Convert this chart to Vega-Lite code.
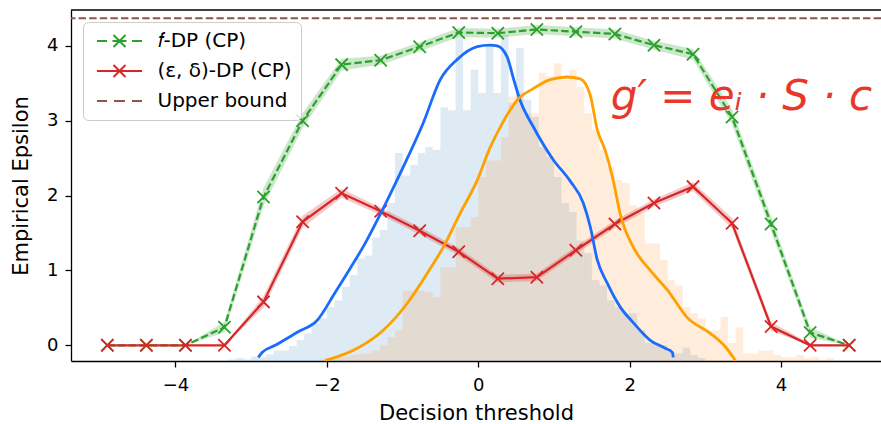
{
  "$schema": "https://vega.github.io/schema/vega-lite/v6.json",
  "width": 810,
  "height": 351,
  "autosize": "none",
  "padding": {"left": 71, "top": 10, "right": 0, "bottom": 63},
  "config": {
    "view": {"stroke": null},
    "font": "DejaVu Sans",
    "axis": {
      "labelFont": "DejaVu Sans", "titleFont": "DejaVu Sans",
      "labelFontSize": 18, "titleFontSize": 21, "titleFontWeight": "normal",
      "labelColor": "#000", "titleColor": "#000",
      "domainColor": "#000", "tickColor": "#000",
      "domainWidth": 1.3, "tickWidth": 1.3, "tickSize": 6, "grid": false, "labelPadding": 7
    },
    "axisY": {"titlePadding": 15},
    "axisX": {"titlePadding": 8, "labelPadding": 9}
  },
  "datasets": {
    "hb": [
      {"lo": -3.3, "hi": -3.2, "h": 0.02}, {"lo": -3.2, "hi": -3.1, "h": 0.04}, {"lo": -3.1, "hi": -3.0, "h": 0.02},
      {"lo": -3.0, "hi": -2.9, "h": 0.06}, {"lo": -2.9, "hi": -2.8, "h": 0.05}, {"lo": -2.8, "hi": -2.7, "h": 0.09},
      {"lo": -2.7, "hi": -2.6, "h": 0.14}, {"lo": -2.6, "hi": -2.5, "h": 0.14}, {"lo": -2.5, "hi": -2.4, "h": 0.20},
      {"lo": -2.4, "hi": -2.3, "h": 0.28}, {"lo": -2.3, "hi": -2.2, "h": 0.37}, {"lo": -2.2, "hi": -2.1, "h": 0.50},
      {"lo": -2.1, "hi": -2.0, "h": 0.57}, {"lo": -2.0, "hi": -1.9, "h": 0.72}, {"lo": -1.9, "hi": -1.8, "h": 0.81},
      {"lo": -1.8, "hi": -1.7, "h": 0.99}, {"lo": -1.7, "hi": -1.6, "h": 1.15}, {"lo": -1.6, "hi": -1.5, "h": 1.37},
      {"lo": -1.5, "hi": -1.4, "h": 1.41}, {"lo": -1.4, "hi": -1.3, "h": 1.65}, {"lo": -1.3, "hi": -1.2, "h": 1.75},
      {"lo": -1.2, "hi": -1.1, "h": 2.11}, {"lo": -1.1, "hi": -1.0, "h": 2.78}, {"lo": -1.0, "hi": -0.9, "h": 2.48},
      {"lo": -0.9, "hi": -0.8, "h": 2.62}, {"lo": -0.8, "hi": -0.7, "h": 2.78}, {"lo": -0.7, "hi": -0.6, "h": 2.86},
      {"lo": -0.6, "hi": -0.5, "h": 2.82}, {"lo": -0.5, "hi": -0.4, "h": 3.39}, {"lo": -0.4, "hi": -0.3, "h": 3.35},
      {"lo": -0.3, "hi": -0.2, "h": 4.33}, {"lo": -0.2, "hi": -0.1, "h": 3.35}, {"lo": -0.1, "hi": 0.0, "h": 3.89},
      {"lo": 0.0, "hi": 0.1, "h": 3.58}, {"lo": 0.1, "hi": 0.2, "h": 4.20}, {"lo": 0.2, "hi": 0.3, "h": 3.58},
      {"lo": 0.3, "hi": 0.4, "h": 4.36}, {"lo": 0.4, "hi": 0.5, "h": 3.45}, {"lo": 0.5, "hi": 0.6, "h": 4.18},
      {"lo": 0.6, "hi": 0.7, "h": 3.49}, {"lo": 0.7, "hi": 0.8, "h": 3.26}, {"lo": 0.8, "hi": 0.9, "h": 2.86},
      {"lo": 0.9, "hi": 1.0, "h": 2.73}, {"lo": 1.0, "hi": 1.1, "h": 2.46}, {"lo": 1.1, "hi": 1.2, "h": 2.11},
      {"lo": 1.2, "hi": 1.3, "h": 1.99}, {"lo": 1.3, "hi": 1.4, "h": 1.61}, {"lo": 1.4, "hi": 1.5, "h": 1.44},
      {"lo": 1.5, "hi": 1.6, "h": 1.08}, {"lo": 1.6, "hi": 1.7, "h": 1.01}, {"lo": 1.7, "hi": 1.8, "h": 0.81},
      {"lo": 1.8, "hi": 1.9, "h": 0.72}, {"lo": 1.9, "hi": 2.0, "h": 0.64}, {"lo": 2.0, "hi": 2.1, "h": 0.64},
      {"lo": 2.1, "hi": 2.2, "h": 0.41}, {"lo": 2.2, "hi": 2.3, "h": 0.24}, {"lo": 2.3, "hi": 2.4, "h": 0.24},
      {"lo": 2.4, "hi": 2.5, "h": 0.21}, {"lo": 2.5, "hi": 2.6, "h": 0.12}, {"lo": 2.6, "hi": 2.7, "h": 0.10},
      {"lo": 2.7, "hi": 2.8, "h": 0.18}, {"lo": 2.8, "hi": 2.9, "h": 0.08}, {"lo": 2.9, "hi": 3.0, "h": 0.04}
    ],
    "ho": [
      {"lo": -2.1, "hi": -2.0, "h": 0.02}, {"lo": -2.0, "hi": -1.9, "h": 0.04}, {"lo": -1.9, "hi": -1.8, "h": 0.05},
      {"lo": -1.8, "hi": -1.7, "h": 0.06}, {"lo": -1.7, "hi": -1.6, "h": 0.08}, {"lo": -1.6, "hi": -1.5, "h": 0.09},
      {"lo": -1.5, "hi": -1.4, "h": 0.10}, {"lo": -1.4, "hi": -1.3, "h": 0.14}, {"lo": -1.3, "hi": -1.2, "h": 0.21},
      {"lo": -1.2, "hi": -1.1, "h": 0.32}, {"lo": -1.1, "hi": -1.0, "h": 0.41}, {"lo": -1.0, "hi": -0.9, "h": 0.94},
      {"lo": -0.9, "hi": -0.8, "h": 0.94}, {"lo": -0.8, "hi": -0.7, "h": 0.94}, {"lo": -0.7, "hi": -0.6, "h": 0.92},
      {"lo": -0.6, "hi": -0.5, "h": 0.85}, {"lo": -0.5, "hi": -0.4, "h": 1.25}, {"lo": -0.4, "hi": -0.3, "h": 1.25},
      {"lo": -0.3, "hi": -0.2, "h": 1.79}, {"lo": -0.2, "hi": -0.1, "h": 1.79}, {"lo": -0.1, "hi": 0.0, "h": 1.92},
      {"lo": 0.0, "hi": 0.1, "h": 2.46}, {"lo": 0.1, "hi": 0.2, "h": 2.68}, {"lo": 0.2, "hi": 0.3, "h": 2.68},
      {"lo": 0.3, "hi": 0.4, "h": 2.99}, {"lo": 0.4, "hi": 0.5, "h": 3.53}, {"lo": 0.5, "hi": 0.6, "h": 3.58},
      {"lo": 0.6, "hi": 0.7, "h": 3.31}, {"lo": 0.7, "hi": 0.8, "h": 3.31}, {"lo": 0.8, "hi": 0.9, "h": 3.85},
      {"lo": 0.9, "hi": 1.0, "h": 3.80}, {"lo": 1.0, "hi": 1.1, "h": 3.98}, {"lo": 1.1, "hi": 1.2, "h": 3.75},
      {"lo": 1.2, "hi": 1.3, "h": 3.89}, {"lo": 1.3, "hi": 1.4, "h": 3.66}, {"lo": 1.4, "hi": 1.5, "h": 3.31},
      {"lo": 1.5, "hi": 1.6, "h": 3.09}, {"lo": 1.6, "hi": 1.7, "h": 2.82}, {"lo": 1.7, "hi": 1.8, "h": 2.59},
      {"lo": 1.8, "hi": 1.9, "h": 2.42}, {"lo": 1.9, "hi": 2.0, "h": 2.38}, {"lo": 2.0, "hi": 2.1, "h": 2.08},
      {"lo": 2.1, "hi": 2.2, "h": 1.98}, {"lo": 2.2, "hi": 2.3, "h": 1.57}, {"lo": 2.3, "hi": 2.4, "h": 1.57},
      {"lo": 2.4, "hi": 2.5, "h": 1.35}, {"lo": 2.5, "hi": 2.6, "h": 1.08}, {"lo": 2.6, "hi": 2.7, "h": 1.01},
      {"lo": 2.7, "hi": 2.8, "h": 0.72}, {"lo": 2.8, "hi": 2.9, "h": 0.64}, {"lo": 2.9, "hi": 3.0, "h": 0.57},
      {"lo": 3.0, "hi": 3.1, "h": 0.41}, {"lo": 3.1, "hi": 3.2, "h": 0.41}, {"lo": 3.2, "hi": 3.3, "h": 0.59},
      {"lo": 3.3, "hi": 3.4, "h": 0.24}, {"lo": 3.4, "hi": 3.5, "h": 0.45}, {"lo": 3.5, "hi": 3.6, "h": 0.10},
      {"lo": 3.6, "hi": 3.7, "h": 0.10}, {"lo": 3.7, "hi": 3.8, "h": 0.14}, {"lo": 3.8, "hi": 3.9, "h": 0.14},
      {"lo": 3.9, "hi": 4.0, "h": 0.08}, {"lo": 4.0, "hi": 4.1, "h": 0.05}, {"lo": 4.1, "hi": 4.2, "h": 0.05},
      {"lo": 4.2, "hi": 4.3, "h": 0.08}, {"lo": 4.3, "hi": 4.4, "h": 0.04}, {"lo": 4.4, "hi": 4.5, "h": 0.05},
      {"lo": 4.5, "hi": 4.6, "h": 0.02}, {"lo": 4.6, "hi": 4.7, "h": 0.04}
    ],
    "cp": [
      {"t": -4.900, "f": 0.00, "fl": 0.00, "fh": 0.00, "e": 0.00, "el": 0.00, "eh": 0.00},
      {"t": -4.384, "f": 0.00, "fl": 0.00, "fh": 0.00, "e": 0.00, "el": 0.00, "eh": 0.00},
      {"t": -3.868, "f": 0.00, "fl": 0.00, "fh": 0.00, "e": 0.00, "el": 0.00, "eh": 0.00},
      {"t": -3.353, "f": 0.24, "fl": 0.17, "fh": 0.31, "e": 0.00, "el": 0.00, "eh": 0.00},
      {"t": -2.837, "f": 1.98, "fl": 1.86, "fh": 2.10, "e": 0.58, "el": 0.50, "eh": 0.66},
      {"t": -2.321, "f": 3.00, "fl": 2.90, "fh": 3.10, "e": 1.65, "el": 1.57, "eh": 1.73},
      {"t": -1.805, "f": 3.75, "fl": 3.67, "fh": 3.83, "e": 2.03, "el": 1.97, "eh": 2.09},
      {"t": -1.289, "f": 3.81, "fl": 3.75, "fh": 3.87, "e": 1.79, "el": 1.74, "eh": 1.84},
      {"t": -0.774, "f": 3.99, "fl": 3.93, "fh": 4.05, "e": 1.53, "el": 1.48, "eh": 1.58},
      {"t": -0.258, "f": 4.18, "fl": 4.12, "fh": 4.24, "e": 1.25, "el": 1.20, "eh": 1.30},
      {"t": 0.258, "f": 4.17, "fl": 4.11, "fh": 4.23, "e": 0.89, "el": 0.84, "eh": 0.94},
      {"t": 0.774, "f": 4.22, "fl": 4.16, "fh": 4.28, "e": 0.91, "el": 0.86, "eh": 0.96},
      {"t": 1.289, "f": 4.19, "fl": 4.13, "fh": 4.25, "e": 1.27, "el": 1.22, "eh": 1.32},
      {"t": 1.805, "f": 4.16, "fl": 4.10, "fh": 4.22, "e": 1.62, "el": 1.57, "eh": 1.67},
      {"t": 2.321, "f": 4.01, "fl": 3.95, "fh": 4.07, "e": 1.90, "el": 1.85, "eh": 1.95},
      {"t": 2.837, "f": 3.89, "fl": 3.82, "fh": 3.96, "e": 2.12, "el": 2.06, "eh": 2.18},
      {"t": 3.353, "f": 3.05, "fl": 2.95, "fh": 3.15, "e": 1.63, "el": 1.56, "eh": 1.70},
      {"t": 3.868, "f": 1.62, "fl": 1.52, "fh": 1.72, "e": 0.25, "el": 0.19, "eh": 0.31},
      {"t": 4.384, "f": 0.17, "fl": 0.10, "fh": 0.24, "e": 0.00, "el": 0.00, "eh": 0.02},
      {"t": 4.900, "f": 0.00, "fl": 0.00, "fh": 0.00, "e": 0.00, "el": 0.00, "eh": 0.00}
    ],
    "bl": [
      {"t": -2.906, "y": -0.161}, {"t": -2.853, "y": -0.094}, {"t": -2.682, "y": 0.0}, {"t": -2.391, "y": 0.174},
      {"t": -2.127, "y": 0.334}, {"t": -1.889, "y": 0.709}, {"t": -1.691, "y": 1.03}, {"t": -1.493, "y": 1.365},
      {"t": -1.334, "y": 1.672}, {"t": -1.03, "y": 2.301}, {"t": -0.727, "y": 2.97}, {"t": -0.502, "y": 3.55},
      {"t": -0.277, "y": 3.82}, {"t": -0.013, "y": 3.99}, {"t": 0.15, "y": 4.01}, {"t": 0.25, "y": 4.0},
      {"t": 0.383, "y": 3.85}, {"t": 0.46, "y": 3.58}, {"t": 0.55, "y": 3.28}, {"t": 0.727, "y": 2.92},
      {"t": 0.99, "y": 2.48}, {"t": 1.21, "y": 2.2}, {"t": 1.387, "y": 1.9}, {"t": 1.48, "y": 1.58},
      {"t": 1.572, "y": 1.14}, {"t": 1.704, "y": 0.83}, {"t": 1.876, "y": 0.51}, {"t": 2.05, "y": 0.3},
      {"t": 2.272, "y": 0.067}, {"t": 2.47, "y": -0.04}, {"t": 2.563, "y": -0.094}, {"t": 2.576, "y": -0.161}
    ],
    "ol": [
      {"t": -2.021, "y": -0.2}, {"t": -1.929, "y": -0.174}, {"t": -1.598, "y": -0.04}, {"t": -1.255, "y": 0.201},
      {"t": -0.938, "y": 0.562}, {"t": -0.674, "y": 0.963}, {"t": -0.462, "y": 1.311}, {"t": -0.238, "y": 1.766},
      {"t": -0.013, "y": 2.207}, {"t": 0.159, "y": 2.649}, {"t": 0.291, "y": 2.916}, {"t": 0.515, "y": 3.278},
      {"t": 0.727, "y": 3.43}, {"t": 0.951, "y": 3.55}, {"t": 1.176, "y": 3.585}, {"t": 1.347, "y": 3.56},
      {"t": 1.48, "y": 3.34}, {"t": 1.572, "y": 2.88}, {"t": 1.678, "y": 2.6}, {"t": 1.783, "y": 2.2},
      {"t": 1.876, "y": 1.75}, {"t": 2.048, "y": 1.31}, {"t": 2.272, "y": 1.0}, {"t": 2.497, "y": 0.74},
      {"t": 2.761, "y": 0.37}, {"t": 3.065, "y": 0.16}, {"t": 3.263, "y": -0.02}, {"t": 3.395, "y": -0.2}
    ],
    "one": [{}]
  },
  "resolve": {"scale": {"y": "independent"}},
  "layer": [
    {
      "layer": [
        {
          "data": {"name": "hb"},
          "mark": {"type": "rect", "color": "#1f77b4", "opacity": 0.15},
          "encoding": {
            "x": {"field": "lo", "type": "quantitative", "title": "Decision threshold", "scale": {"domain": [-5.38, 5.32], "nice": false, "zero": false}, "axis": {"values": [-4, -2, 0, 2, 4], "format": "d"}},
            "x2": {"field": "hi"},
            "y": {"field": "h", "type": "quantitative", "scale": {"domain": [0, 4.69], "nice": false, "zero": false}, "axis": null},
            "y2": {"datum": 0}
          }
        },
        {
          "data": {"name": "ho"},
          "mark": {"type": "rect", "color": "#ff7f0e", "opacity": 0.15},
          "encoding": {
            "x": {"field": "lo", "type": "quantitative", "title": "Decision threshold", "scale": {"domain": [-5.38, 5.32], "nice": false, "zero": false}, "axis": {"values": [-4, -2, 0, 2, 4], "format": "d"}},
            "x2": {"field": "hi"},
            "y": {"field": "h", "type": "quantitative", "scale": {"domain": [0, 4.69], "nice": false, "zero": false}, "axis": null},
            "y2": {"datum": 0}
          }
        }
      ]
    },
    {
      "layer": [
        {
          "data": {"name": "cp"},
          "mark": {"type": "area", "color": "#2ca02c", "opacity": 0.25},
          "encoding": {
            "x": {"field": "t", "type": "quantitative", "title": "Decision threshold", "scale": {"domain": [-5.38, 5.32], "nice": false, "zero": false}, "axis": {"values": [-4, -2, 0, 2, 4], "format": "d"}},
            "y": {"field": "fl", "type": "quantitative", "title": "Empirical Epsilon", "scale": {"domain": [-0.21, 4.48], "nice": false, "zero": false}, "axis": {"values": [0, 1, 2, 3, 4], "format": "d"}},
            "y2": {"field": "fh"}
          }
        },
        {
          "data": {"name": "cp"},
          "mark": {"type": "area", "color": "#d62728", "opacity": 0.25},
          "encoding": {
            "x": {"field": "t", "type": "quantitative", "title": "Decision threshold"},
            "y": {"field": "el", "type": "quantitative", "title": "Empirical Epsilon"},
            "y2": {"field": "eh"}
          }
        },
        {
          "data": {"name": "cp"},
          "mark": {"type": "line", "strokeDash": [7.4, 3.2], "strokeWidth": 2.2},
          "encoding": {
            "x": {"field": "t", "type": "quantitative", "title": "Decision threshold"},
            "y": {"field": "f", "type": "quantitative", "title": "Empirical Epsilon"},
            "color": {
              "datum": "𝑓-DP (CP)", "type": "nominal",
              "scale": {"domain": ["𝑓-DP (CP)", "(ε, δ)-DP (CP)", "Upper bound"], "range": ["#2ca02c", "#d62728", "#8c564b"]},
              "legend": {
                "orient": "none", "legendX": 12, "legendY": 12, "title": null,
                "labelFont": "DejaVu Sans", "labelFontSize": 20, "labelColor": "#000",
                "symbolSize": 100, "symbolOffset": 17.5, "labelOffset": 28,
                "padding": 9, "rowPadding": 10,
                "strokeColor": "#cccccc", "cornerRadius": 5, "fillColor": "rgba(255,255,255,0.8)",
                "symbolStrokeWidth": 2,
                "encode": {
                  "symbols": {
                    "update": {
                      "shape": {"signal": "datum.value === 'Upper bound' ? 'M-4.5,0H-2.5M-1.1,0H1.1M2.5,0H4.5' : (datum.value === '(ε, δ)-DP (CP)' ? 'M-4.5,0H4.5M-1.2,-1.2L1.2,1.2M-1.2,1.2L1.2,-1.2' : 'M-4.5,0H-2.5M-1.4,0H1.4M2.5,0H4.5M0,0L1.2,1.2M0,0L-1.2,-1.2M0,0L1.2,-1.2M0,0L-1.2,1.2')"},
                      "strokeDash": {"value": []},
                      "fill": {"value": "transparent"},
                      "strokeWidth": {"value": 2}
                    }
                  }
                }
              }
            }
          }
        },
        {
          "data": {"name": "cp"},
          "mark": {"type": "point", "shape": "M-1,-1L1,1M-1,1L1,-1", "filled": false, "stroke": "#2ca02c", "strokeWidth": 1.8, "size": 150, "opacity": 1},
          "encoding": {
            "x": {"field": "t", "type": "quantitative", "title": "Decision threshold"},
            "y": {"field": "f", "type": "quantitative", "title": "Empirical Epsilon"}
          }
        },
        {
          "data": {"name": "cp"},
          "mark": {"type": "line", "strokeWidth": 2.2},
          "encoding": {
            "x": {"field": "t", "type": "quantitative", "title": "Decision threshold"},
            "y": {"field": "e", "type": "quantitative", "title": "Empirical Epsilon"},
            "color": {"datum": "(ε, δ)-DP (CP)", "type": "nominal"}
          }
        },
        {
          "data": {"name": "cp"},
          "mark": {"type": "point", "shape": "M-1,-1L1,1M-1,1L1,-1", "filled": false, "stroke": "#d62728", "strokeWidth": 1.8, "size": 150, "opacity": 1},
          "encoding": {
            "x": {"field": "t", "type": "quantitative", "title": "Decision threshold"},
            "y": {"field": "e", "type": "quantitative", "title": "Empirical Epsilon"}
          }
        },
        {
          "data": {"name": "one"},
          "mark": {"type": "rule", "strokeDash": [7.4, 3.2], "strokeWidth": 2},
          "encoding": {
            "y": {"datum": 4.37, "type": "quantitative", "title": "Empirical Epsilon"},
            "color": {"datum": "Upper bound", "type": "nominal"}
          }
        },
        {
          "data": {"name": "one"},
          "mark": {"type": "rule", "color": "#000", "strokeWidth": 1.3},
          "encoding": {"y": {"datum": 4.48, "type": "quantitative", "title": "Empirical Epsilon"}}
        },
        {
          "data": {"name": "bl"},
          "mark": {"type": "line", "color": "#1a6cff", "strokeWidth": 2.8, "interpolate": "monotone"},
          "encoding": {
            "x": {"field": "t", "type": "quantitative", "title": "Decision threshold"},
            "y": {"field": "y", "type": "quantitative", "title": "Empirical Epsilon"}
          }
        },
        {
          "data": {"name": "ol"},
          "mark": {"type": "line", "color": "#ffa000", "strokeWidth": 2.8, "interpolate": "monotone"},
          "encoding": {
            "x": {"field": "t", "type": "quantitative", "title": "Decision threshold"},
            "y": {"field": "y", "type": "quantitative", "title": "Empirical Epsilon"}
          }
        },
        {
          "data": {"name": "one"},
          "mark": {"type": "text", "text": "g′ = eᵢ · S · c", "fontSize": 42, "fontStyle": "italic", "font": "DejaVu Sans", "color": "#e8382c", "align": "left", "baseline": "alphabetic"},
          "encoding": {
            "x": {"datum": 1.75, "type": "quantitative"},
            "y": {"datum": 3.15, "type": "quantitative"}
          }
        }
      ]
    }
  ]
}
